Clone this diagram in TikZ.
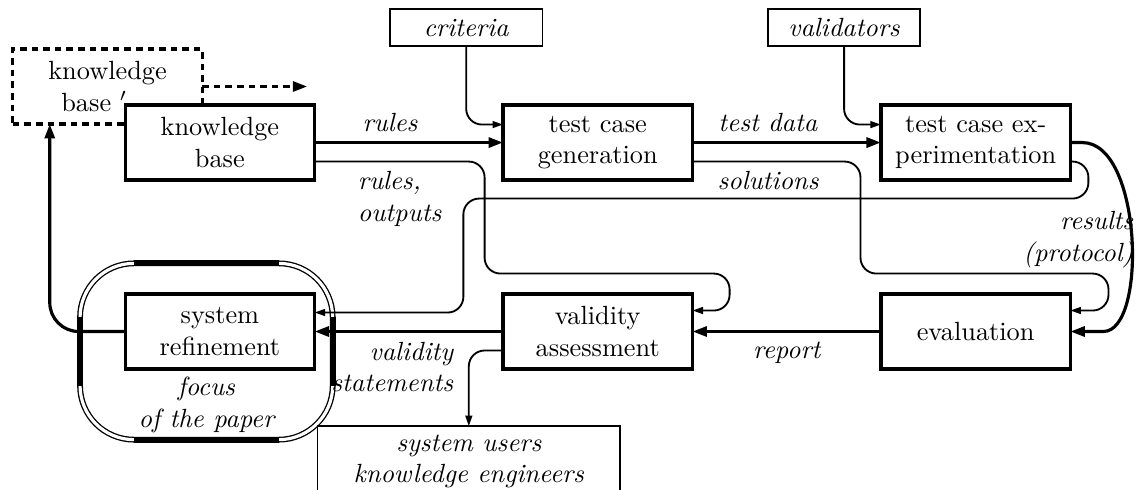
\documentclass[tikz,border=0pt]{standalone}
\usetikzlibrary{
  arrows.meta,
  backgrounds,
  calc,
  positioning,
}
\tikzset{
  >={Triangle[length=4pt,width=2.6pt]},
  box/.style={rectangle,draw,line width=1.2pt,outer sep=0pt,minimum width=72pt,minimum height=28.5pt,align=center,fill=white},
  minibox/.style={rectangle,draw,line width=0.7pt,outer sep=0pt,minimum width=58pt,minimum height=14pt,align=center,font=\itshape},
  dashbox/.style={box,dash pattern=on 2.5pt off 1.9pt},
  focusbox/.style={rectangle,draw,double,line width=0.5pt,double distance=1.2pt,outer sep=0pt,rounded corners=20.5pt,minimum width=96pt,minimum height=67pt},
  flow/.style={line width=1.2pt,-{Triangle[length=5.5pt,width=3.8pt]}},
  feed/.style={line width=0.7pt,->,rounded corners=6pt},
  lbl/.style={font=\itshape,align=center},
}
\begin{document}
\begin{tikzpicture}[x=0.38pt,y=-0.38pt,node distance=43.3pt and 71.6pt]
      \useasboundingbox (0,0) rectangle (1138,489);

      \node[dashbox] (kbprime) at (107.5,86.5) {knowledge\\base $'$\kern10pt};
      \node[box] (kb) [below right=-7.2pt and -29.3pt of kbprime] {knowledge\\base};
      \node[box] (tcg) [right=of kb] {test case\\generation};
      \node[box] (tce) [right=of tcg] {test case ex-\\perimentation};
      \node[box] (sysref) [below=of kb] {system\\refinement};
      \node[box] (valid) [below=of tcg] {validity\\assessment};
      \node[box] (eval) [below=of tce] {evaluation};
      \node[minibox,xshift=-50pt] (crit) [above=22.4pt of tcg] {criteria};
      \node[minibox,xshift=-50pt] (valids) [above=22.4pt of tce] {validators};
      \node[minibox,minimum width=115pt,xshift=-49pt] (users) [below=21.7pt of valid] {system users\\knowledge engineers};

      % focus of the paper
      \begin{scope}[on background layer]
        \node[focusbox] (focus) at ($(sysref)+(-13.5,20)$) {};
        \draw[line width=2.2pt] ($(focus.north west)+(54,0)$) -- ($(focus.north east)+(-54,0)$)
          ($(focus.south west)+(54,0)$) -- ($(focus.south east)+(-54,0)$)
          ($(focus.north west)+(0,54)$) -- ($(focus.south west)+(0,-54)$)
          ($(focus.north east)+(0,54)$) -- ($(focus.south east)+(0,-54)$);
      \end{scope}
      \node[lbl,anchor=south,inner sep=1pt] (focuslbl) at ($(focus.south)+(0,-4)$) {focus\\of the paper};

      \coordinate (kbout) at ($(kbprime.east)+(105,0)$);
      \draw[line width=1.2pt,dash pattern=on 2.5pt off 1.9pt,-{Triangle[length=5.5pt,width=3.8pt]}] (kbprime.east) -- (kbout);

      \draw[flow] (kb) -- node[lbl,above,pos=0.4] (lrules) {rules} (tcg);
      \draw[flow] (tcg) -- node[lbl,above,pos=0.4] (ldata) {test data} (tce);
      \draw[feed] (crit.south) |- ($(tcg.west)+(0,-18)$);
      \draw[feed] (valids.south) |- ($(tce.west)+(0,-18)$);

      \draw[feed] ($(kb.east)+(0,19)$) -- node[lbl,below,align=left] (lout) {rules,\\outputs} ++(170,0)
        -- ++(0,112) -- ++(245,0) -- ++(0,37) -- ($(valid.east)+(0,-21)$);
      \draw[feed] ($(tcg.east)+(0,19)$) -- node[lbl,below,pos=0.45] (lsol) {solutions} ++(168,0)
        -- ++(0,112) -- ++(248,0) -- ++(0,37) -- ($(eval.east)+(0,-21)$);
      \draw[feed] ($(tce.east)+(0,19)$) -- ++(18,0) -- ++(0,37) -- ++(-625,0) -- ++(0,114)
        -- ($(sysref.east)+(0,-19)$);
      \node[lbl,align=right,anchor=north east,inner sep=1pt] (lres) at ($(tce.south east)+(66,28)$) {results\\(protocol)};

      \draw[flow] (tce.east) -- ++(12,0) .. controls +(60,0) and +(44,0) .. ($(eval.east)+(33,0)$) -- (eval.east);
      \draw[flow] (eval) -- node[lbl,below] (lrep) {report} (valid);
      \draw[flow] (valid) -- node[lbl,below left,pos=0.21,align=right] (lstat) {validity\\statements} (sysref);
      \draw[feed] ($(valid.west)+(0,19)$) -| (users.north);
      \draw[flow,rounded corners=11pt] (sysref.west) -| ($(kbprime.south west)+(37,0)$);

    \end{tikzpicture}
\end{document}
